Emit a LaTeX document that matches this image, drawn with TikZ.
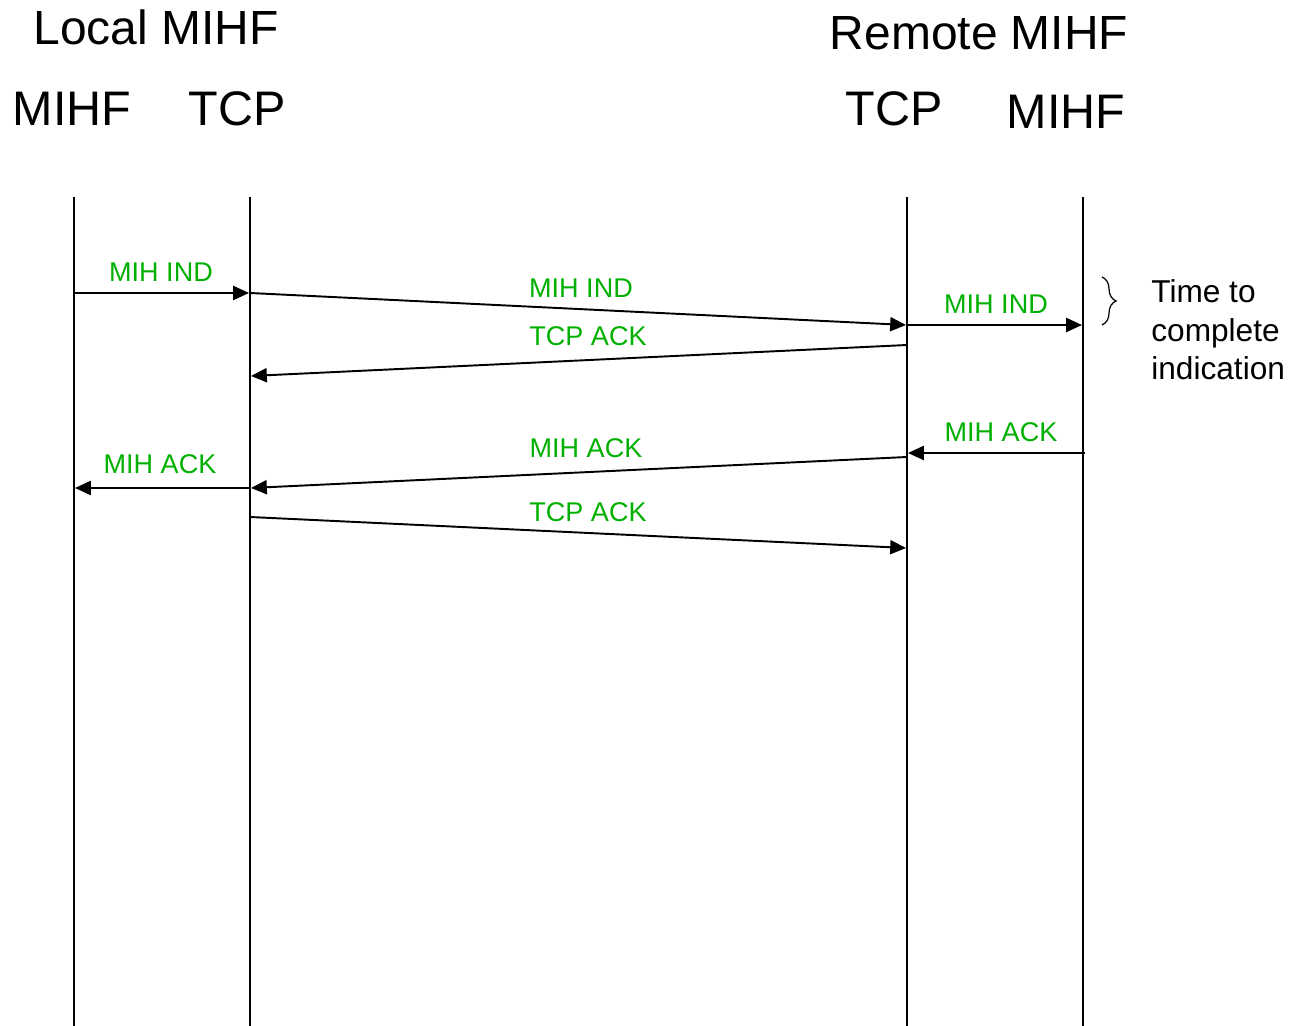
\documentclass[tikz,border=0pt]{standalone}
\usepackage{fontspec}
\setmainfont{Liberation Sans}
\usetikzlibrary{arrows.meta,decorations.pathreplacing}
\definecolor{msggreen}{RGB}{0,176,0}
\begin{document}
\begin{tikzpicture}[x=0.02cm,y=-0.02cm,
  lifeline/.style={line width=1.2pt,black},
  msg/.style={line width=1.1pt,black,-{Triangle[length=9pt,width=8pt]}},
  msglabel/.style={text=msggreen,font=\fontsize{15.4}{18}\selectfont,anchor=base,inner sep=0pt},
  header/.style={font=\fontsize{27.3}{32}\selectfont,anchor=base,inner sep=0pt},
  header2/.style={font=\fontsize{27.6}{33}\selectfont,anchor=base,inner sep=0pt},
  note/.style={font=\fontsize{18}{22}\selectfont,anchor=base west,inner sep=0pt}]
\useasboundingbox (0,0) rectangle (1292,1026);
% headers
\node[header] (local) at (156,45) {Local MIHF};
\node[header] (remote) at (979,50) {Remote MIHF};
\node[header2] (hmihfL) at (72,126) {MIHF};
\node[header2] (htcpL) at (237,126) {TCP};
\node[header2] (htcpR) at (894,126) {TCP};
\node[header2] (hmihfR) at (1066,129) {MIHF};
% lifelines
\coordinate (L1t) at (74,197);  \coordinate (L1b) at (74,1026);
\coordinate (L2t) at (250,197); \coordinate (L2b) at (250,1026);
\coordinate (L3t) at (907,197); \coordinate (L3b) at (907,1026);
\coordinate (L4t) at (1083,197);\coordinate (L4b) at (1083,1026);
\draw[lifeline] (L1t) -- (L1b);
\draw[lifeline] (L2t) -- (L2b);
\draw[lifeline] (L3t) -- (L3b);
\draw[lifeline] (L4t) -- (L4b);
% message end points
\coordinate (m1s) at (74,293);  \coordinate (m1e) at (249,293);
\coordinate (m2s) at (250,293); \coordinate (m2e) at (906,325);
\coordinate (m3s) at (907,325); \coordinate (m3e) at (1082,325);
\coordinate (m4s) at (907,345); \coordinate (m4e) at (251,376);
\coordinate (m5s) at (1085,453);\coordinate (m5e) at (908,453);
\coordinate (m6s) at (907,457); \coordinate (m6e) at (251,488);
\coordinate (m7s) at (250,488); \coordinate (m7e) at (75,488);
\coordinate (m8s) at (250,517); \coordinate (m8e) at (906,548);
% messages
\draw[msg] (m1s) -- (m1e);
\draw[msg] (m2s) -- (m2e);
\draw[msg] (m3s) -- (m3e);
\draw[msg] (m4s) -- (m4e);
\draw[msg] (m5s) -- (m5e);
\draw[msg] (m6s) -- (m6e);
\draw[msg] (m7s) -- (m7e);
\draw[msg] (m8s) -- (m8e);
% labels
\node[msglabel] (t1) at (161,282) {MIH IND};
\node[msglabel] (t2) at (581,298) {MIH IND};
\node[msglabel] (t3) at (996,314) {MIH IND};
\node[msglabel] (t4) at (588,346) {TCP ACK};
\node[msglabel] (t5) at (1001,442) {MIH ACK};
\node[msglabel] (t6) at (586,458) {MIH ACK};
\node[msglabel] (t7) at (160,474) {MIH ACK};
\node[msglabel] (t8) at (588,522) {TCP ACK};
% brace and note
\coordinate (bt) at (1102,277);
\coordinate (bb) at (1102,325);
\draw[line width=0.7pt,decorate,decoration={brace,amplitude=8pt}] (bt) -- (bb);
\node[note] (n1) at (1151,303) {Time to};
\node[note] (n2) at (1151,342) {complete};
\node[note] (n3) at (1151,380) {indication};
\end{tikzpicture}
\end{document}
